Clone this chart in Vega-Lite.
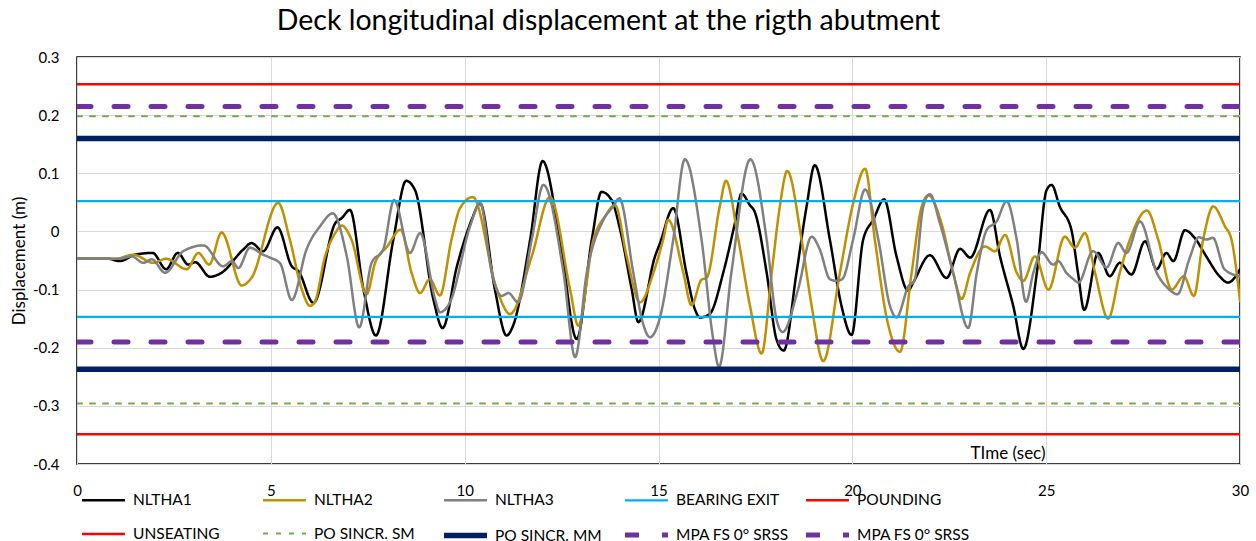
{
 "$schema": "https://vega.github.io/schema/vega-lite/v6.json",
 "width": 1163,
 "height": 407,
 "autosize": {"type": "none"},
 "padding": {"left": 77, "top": 57, "right": 16, "bottom": 77},
 "background": "white",
 "config": {"font": "Lato", "view": {"stroke": "black", "strokeWidth": 1.5}},
 "title": {"text": "Deck longitudinal displacement at the rigth abutment", "fontSize": 28.5, "fontWeight": "normal", "color": "black", "frame": "group", "anchor": "middle", "dx": -50, "offset": 15},
 "data": {"values": [
{"series":"NLTHA1","time":0,"disp":-0.047},{"series":"NLTHA1","time":0.8,"disp":-0.047},{"series":"NLTHA1","time":1.1,"disp":-0.051},{"series":"NLTHA1","time":1.5,"disp":-0.04},{"series":"NLTHA1","time":1.95,"disp":-0.037},{"series":"NLTHA1","time":2.3,"disp":-0.065},{"series":"NLTHA1","time":2.6,"disp":-0.037},{"series":"NLTHA1","time":2.87,"disp":-0.057},{"series":"NLTHA1","time":3.05,"disp":-0.053},{"series":"NLTHA1","time":3.43,"disp":-0.078},{"series":"NLTHA1","time":3.73,"disp":-0.071},{"series":"NLTHA1","time":4.29,"disp":-0.031},{"series":"NLTHA1","time":4.5,"disp":-0.02},{"series":"NLTHA1","time":4.8,"disp":-0.034},{"series":"NLTHA1","time":5.17,"disp":0.007},{"series":"NLTHA1","time":5.54,"disp":-0.06},{"series":"NLTHA1","time":5.71,"disp":-0.068},{"series":"NLTHA1","time":6.1,"disp":-0.123},{"series":"NLTHA1","time":6.66,"disp":0.014},{"series":"NLTHA1","time":6.83,"disp":0.023},{"series":"NLTHA1","time":7.04,"disp":0.037},{"series":"NLTHA1","time":7.39,"disp":-0.1},{"series":"NLTHA1","time":7.71,"disp":-0.179},{"series":"NLTHA1","time":8.16,"disp":-0.014},{"series":"NLTHA1","time":8.49,"disp":0.087},{"series":"NLTHA1","time":8.72,"disp":0.071},{"series":"NLTHA1","time":9.19,"disp":-0.116},{"series":"NLTHA1","time":9.43,"disp":-0.166},{"series":"NLTHA1","time":9.8,"disp":-0.06},{"series":"NLTHA1","time":10.0,"disp":-0.014},{"series":"NLTHA1","time":10.18,"disp":0.02},{"series":"NLTHA1","time":10.4,"disp":0.048},{"series":"NLTHA1","time":10.78,"disp":-0.1},{"series":"NLTHA1","time":11.08,"disp":-0.179},{"series":"NLTHA1","time":11.25,"disp":-0.162},{"series":"NLTHA1","time":11.69,"disp":-0.014},{"series":"NLTHA1","time":12.01,"disp":0.121},{"series":"NLTHA1","time":12.46,"disp":-0.014},{"series":"NLTHA1","time":12.89,"disp":-0.185},{"series":"NLTHA1","time":13.28,"disp":-0.014},{"series":"NLTHA1","time":13.53,"disp":0.068},{"series":"NLTHA1","time":13.79,"disp":0.054},{"series":"NLTHA1","time":14.01,"disp":0.003},{"series":"NLTHA1","time":14.31,"disp":-0.1},{"series":"NLTHA1","time":14.48,"disp":-0.156},{"series":"NLTHA1","time":14.91,"disp":-0.043},{"series":"NLTHA1","time":15.04,"disp":-0.02},{"series":"NLTHA1","time":15.38,"disp":0.04},{"series":"NLTHA1","time":15.72,"disp":-0.071},{"series":"NLTHA1","time":15.94,"disp":-0.134},{"series":"NLTHA1","time":16.07,"disp":-0.148},{"series":"NLTHA1","time":16.32,"disp":-0.142},{"series":"NLTHA1","time":16.67,"disp":-0.071},{"series":"NLTHA1","time":16.97,"disp":0.014},{"series":"NLTHA1","time":17.14,"disp":0.065},{"series":"NLTHA1","time":17.36,"disp":0.045},{"series":"NLTHA1","time":17.48,"disp":0.034},{"series":"NLTHA1","time":17.79,"disp":-0.071},{"series":"NLTHA1","time":18.04,"disp":-0.185},{"series":"NLTHA1","time":18.23,"disp":-0.205},{"series":"NLTHA1","time":18.56,"disp":-0.071},{"series":"NLTHA1","time":18.82,"disp":0.043},{"series":"NLTHA1","time":19.03,"disp":0.114},{"series":"NLTHA1","time":19.42,"disp":-0.014},{"series":"NLTHA1","time":19.72,"disp":-0.128},{"series":"NLTHA1","time":19.98,"disp":-0.178},{"series":"NLTHA1","time":20.28,"disp":-0.014},{"series":"NLTHA1","time":20.54,"disp":0.02},{"series":"NLTHA1","time":20.82,"disp":0.055},{"series":"NLTHA1","time":21.14,"disp":-0.043},{"series":"NLTHA1","time":21.44,"disp":-0.102},{"series":"NLTHA1","time":21.57,"disp":-0.088},{"series":"NLTHA1","time":22.0,"disp":-0.041},{"series":"NLTHA1","time":22.43,"disp":-0.08},{"series":"NLTHA1","time":22.78,"disp":-0.03},{"series":"NLTHA1","time":23.04,"disp":-0.045},{"series":"NLTHA1","time":23.55,"disp":0.037},{"series":"NLTHA1","time":23.81,"disp":-0.043},{"series":"NLTHA1","time":24.15,"disp":-0.128},{"series":"NLTHA1","time":24.41,"disp":-0.202},{"series":"NLTHA1","time":24.76,"disp":-0.071},{"series":"NLTHA1","time":25.01,"disp":0.071},{"series":"NLTHA1","time":25.14,"disp":0.08},{"series":"NLTHA1","time":25.35,"disp":0.043},{"series":"NLTHA1","time":25.65,"disp":0.003},{"series":"NLTHA1","time":25.82,"disp":-0.071},{"series":"NLTHA1","time":25.98,"disp":-0.135},{"series":"NLTHA1","time":26.34,"disp":-0.037},{"series":"NLTHA1","time":26.64,"disp":-0.077},{"series":"NLTHA1","time":26.9,"disp":-0.054},{"series":"NLTHA1","time":27.2,"disp":-0.074},{"series":"NLTHA1","time":27.55,"disp":-0.017},{"series":"NLTHA1","time":27.85,"disp":-0.065},{"series":"NLTHA1","time":28.1,"disp":-0.037},{"series":"NLTHA1","time":28.28,"disp":-0.051},{"series":"NLTHA1","time":28.58,"disp":0.002},{"series":"NLTHA1","time":28.83,"disp":-0.011},{"series":"NLTHA1","time":29.13,"disp":-0.043},{"series":"NLTHA1","time":29.47,"disp":-0.077},{"series":"NLTHA1","time":29.69,"disp":-0.088},{"series":"NLTHA1","time":30,"disp":-0.065},
{"series":"NLTHA2","time":0,"disp":-0.047},{"series":"NLTHA2","time":1.0,"disp":-0.047},{"series":"NLTHA2","time":1.45,"disp":-0.04},{"series":"NLTHA2","time":1.97,"disp":-0.054},{"series":"NLTHA2","time":2.3,"disp":-0.047},{"series":"NLTHA2","time":2.83,"disp":-0.065},{"series":"NLTHA2","time":3.13,"disp":-0.037},{"series":"NLTHA2","time":3.41,"disp":-0.057},{"series":"NLTHA2","time":3.73,"disp":-0.002},{"series":"NLTHA2","time":4.25,"disp":-0.093},{"series":"NLTHA2","time":4.5,"disp":-0.08},{"series":"NLTHA2","time":5.19,"disp":0.049},{"series":"NLTHA2","time":5.49,"disp":-0.014},{"series":"NLTHA2","time":5.8,"disp":-0.1},{"series":"NLTHA2","time":6.01,"disp":-0.128},{"series":"NLTHA2","time":6.13,"disp":-0.122},{"series":"NLTHA2","time":6.4,"disp":-0.043},{"series":"NLTHA2","time":6.66,"disp":-0.003},{"series":"NLTHA2","time":6.83,"disp":0.01},{"series":"NLTHA2","time":7.08,"disp":-0.014},{"series":"NLTHA2","time":7.47,"disp":-0.108},{"series":"NLTHA2","time":7.69,"disp":-0.054},{"series":"NLTHA2","time":8.0,"disp":-0.026},{"series":"NLTHA2","time":8.35,"disp":0.003},{"series":"NLTHA2","time":8.63,"disp":-0.071},{"series":"NLTHA2","time":8.85,"disp":-0.106},{"series":"NLTHA2","time":9.1,"disp":-0.082},{"series":"NLTHA2","time":9.36,"disp":-0.11},{"series":"NLTHA2","time":9.66,"disp":-0.014},{"series":"NLTHA2","time":9.88,"disp":0.04},{"series":"NLTHA2","time":10.21,"disp":0.059},{"series":"NLTHA2","time":10.83,"disp":-0.1},{"series":"NLTHA2","time":11.17,"disp":-0.142},{"series":"NLTHA2","time":11.73,"disp":-0.043},{"series":"NLTHA2","time":12.2,"disp":0.059},{"series":"NLTHA2","time":12.72,"disp":-0.1},{"series":"NLTHA2","time":12.93,"disp":-0.162},{"series":"NLTHA2","time":13.32,"disp":-0.014},{"series":"NLTHA2","time":13.62,"disp":0.026},{"series":"NLTHA2","time":13.88,"disp":0.045},{"series":"NLTHA2","time":14.18,"disp":-0.043},{"series":"NLTHA2","time":14.52,"disp":-0.122},{"series":"NLTHA2","time":14.87,"disp":-0.071},{"series":"NLTHA2","time":15.12,"disp":-0.014},{"series":"NLTHA2","time":15.25,"disp":0.02},{"series":"NLTHA2","time":15.64,"disp":-0.071},{"series":"NLTHA2","time":15.85,"disp":-0.127},{"series":"NLTHA2","time":16.11,"disp":-0.083},{"series":"NLTHA2","time":16.24,"disp":-0.08},{"series":"NLTHA2","time":16.58,"disp":0.043},{"series":"NLTHA2","time":16.74,"disp":0.087},{"series":"NLTHA2","time":17.06,"disp":-0.014},{"series":"NLTHA2","time":17.36,"disp":-0.128},{"series":"NLTHA2","time":17.66,"disp":-0.21},{"series":"NLTHA2","time":17.92,"disp":-0.071},{"series":"NLTHA2","time":18.13,"disp":0.043},{"series":"NLTHA2","time":18.32,"disp":0.104},{"series":"NLTHA2","time":18.69,"disp":-0.014},{"series":"NLTHA2","time":18.95,"disp":-0.128},{"series":"NLTHA2","time":19.25,"disp":-0.223},{"series":"NLTHA2","time":19.68,"disp":-0.071},{"series":"NLTHA2","time":20.02,"disp":0.048},{"series":"NLTHA2","time":20.33,"disp":0.108},{"series":"NLTHA2","time":20.58,"disp":-0.014},{"series":"NLTHA2","time":20.89,"disp":-0.15},{"series":"NLTHA2","time":21.23,"disp":-0.207},{"series":"NLTHA2","time":21.53,"disp":-0.071},{"series":"NLTHA2","time":21.79,"disp":0.043},{"series":"NLTHA2","time":21.96,"disp":0.062},{"series":"NLTHA2","time":22.3,"disp":0.014},{"series":"NLTHA2","time":22.6,"disp":-0.071},{"series":"NLTHA2","time":22.82,"disp":-0.116},{"series":"NLTHA2","time":23.04,"disp":-0.071},{"series":"NLTHA2","time":23.42,"disp":-0.026},{"series":"NLTHA2","time":23.68,"disp":-0.034},{"series":"NLTHA2","time":23.94,"disp":-0.006},{"series":"NLTHA2","time":24.24,"disp":-0.071},{"series":"NLTHA2","time":24.41,"disp":-0.085},{"series":"NLTHA2","time":24.71,"disp":-0.043},{"series":"NLTHA2","time":25.06,"disp":-0.1},{"series":"NLTHA2","time":25.48,"disp":-0.009},{"series":"NLTHA2","time":25.74,"disp":-0.028},{"series":"NLTHA2","time":26.0,"disp":-0.003},{"series":"NLTHA2","time":26.26,"disp":-0.071},{"series":"NLTHA2","time":26.6,"disp":-0.15},{"series":"NLTHA2","time":26.9,"disp":-0.071},{"series":"NLTHA2","time":27.16,"disp":-0.014},{"series":"NLTHA2","time":27.6,"disp":0.036},{"series":"NLTHA2","time":27.89,"disp":-0.014},{"series":"NLTHA2","time":28.24,"disp":-0.1},{"series":"NLTHA2","time":28.55,"disp":-0.077},{"series":"NLTHA2","time":28.81,"disp":-0.111},{"series":"NLTHA2","time":29.05,"disp":-0.014},{"series":"NLTHA2","time":29.31,"disp":0.043},{"series":"NLTHA2","time":29.61,"disp":0.009},{"series":"NLTHA2","time":29.78,"disp":-0.014},{"series":"NLTHA2","time":30,"disp":-0.12},
{"series":"NLTHA3","time":0,"disp":-0.047},{"series":"NLTHA3","time":1.1,"disp":-0.047},{"series":"NLTHA3","time":1.41,"disp":-0.043},{"series":"NLTHA3","time":1.71,"disp":-0.054},{"series":"NLTHA3","time":1.93,"disp":-0.048},{"series":"NLTHA3","time":2.27,"disp":-0.071},{"series":"NLTHA3","time":2.74,"disp":-0.034},{"series":"NLTHA3","time":3.26,"disp":-0.024},{"series":"NLTHA3","time":3.77,"disp":-0.06},{"series":"NLTHA3","time":4.0,"disp":-0.051},{"series":"NLTHA3","time":4.16,"disp":-0.063},{"series":"NLTHA3","time":4.46,"disp":-0.028},{"series":"NLTHA3","time":4.8,"disp":-0.04},{"series":"NLTHA3","time":4.98,"disp":-0.045},{"series":"NLTHA3","time":5.24,"disp":-0.055},{"series":"NLTHA3","time":5.54,"disp":-0.118},{"series":"NLTHA3","time":5.92,"disp":-0.031},{"series":"NLTHA3","time":6.27,"disp":0.009},{"series":"NLTHA3","time":6.6,"disp":0.031},{"series":"NLTHA3","time":6.96,"disp":-0.043},{"series":"NLTHA3","time":7.28,"disp":-0.165},{"series":"NLTHA3","time":7.6,"disp":-0.054},{"series":"NLTHA3","time":7.9,"disp":-0.031},{"series":"NLTHA3","time":8.18,"disp":0.054},{"series":"NLTHA3","time":8.59,"disp":-0.037},{"series":"NLTHA3","time":8.85,"disp":-0.003},{"series":"NLTHA3","time":9.24,"disp":-0.117},{"series":"NLTHA3","time":9.36,"disp":-0.139},{"series":"NLTHA3","time":9.62,"disp":-0.122},{"series":"NLTHA3","time":10.14,"disp":0.009},{"series":"NLTHA3","time":10.4,"disp":0.049},{"series":"NLTHA3","time":10.7,"disp":-0.071},{"series":"NLTHA3","time":10.95,"disp":-0.111},{"series":"NLTHA3","time":11.13,"disp":-0.106},{"series":"NLTHA3","time":11.38,"disp":-0.122},{"series":"NLTHA3","time":11.73,"disp":-0.014},{"series":"NLTHA3","time":12.03,"disp":0.08},{"series":"NLTHA3","time":12.55,"disp":-0.071},{"series":"NLTHA3","time":12.85,"disp":-0.216},{"series":"NLTHA3","time":13.15,"disp":-0.071},{"series":"NLTHA3","time":13.58,"disp":0.02},{"series":"NLTHA3","time":13.83,"disp":0.043},{"series":"NLTHA3","time":13.99,"disp":0.057},{"series":"NLTHA3","time":14.35,"disp":-0.071},{"series":"NLTHA3","time":14.59,"disp":-0.156},{"series":"NLTHA3","time":14.78,"disp":-0.182},{"series":"NLTHA3","time":15.03,"disp":-0.15},{"series":"NLTHA3","time":15.38,"disp":-0.014},{"series":"NLTHA3","time":15.68,"disp":0.124},{"series":"NLTHA3","time":16.11,"disp":-0.014},{"series":"NLTHA3","time":16.41,"disp":-0.185},{"series":"NLTHA3","time":16.56,"disp":-0.233},{"series":"NLTHA3","time":16.88,"disp":-0.071},{"series":"NLTHA3","time":17.37,"disp":0.124},{"series":"NLTHA3","time":17.79,"disp":-0.014},{"series":"NLTHA3","time":18.04,"disp":-0.15},{"series":"NLTHA3","time":18.2,"disp":-0.173},{"series":"NLTHA3","time":18.6,"disp":-0.1},{"series":"NLTHA3","time":18.95,"disp":-0.009},{"series":"NLTHA3","time":19.16,"disp":-0.031},{"series":"NLTHA3","time":19.42,"disp":-0.082},{"series":"NLTHA3","time":19.59,"disp":-0.085},{"series":"NLTHA3","time":19.74,"disp":-0.082},{"series":"NLTHA3","time":20.02,"disp":-0.014},{"series":"NLTHA3","time":20.33,"disp":0.072},{"series":"NLTHA3","time":20.67,"disp":-0.014},{"series":"NLTHA3","time":20.97,"disp":-0.128},{"series":"NLTHA3","time":21.14,"disp":-0.148},{"series":"NLTHA3","time":21.45,"disp":-0.094},{"series":"NLTHA3","time":21.6,"disp":-0.085},{"series":"NLTHA3","time":21.83,"disp":0.043},{"series":"NLTHA3","time":22.0,"disp":0.064},{"series":"NLTHA3","time":22.26,"disp":0.014},{"series":"NLTHA3","time":22.6,"disp":-0.071},{"series":"NLTHA3","time":22.99,"disp":-0.166},{"series":"NLTHA3","time":23.21,"disp":-0.071},{"series":"NLTHA3","time":23.47,"disp":0.003},{"series":"NLTHA3","time":23.72,"disp":0.017},{"series":"NLTHA3","time":23.98,"disp":0.052},{"series":"NLTHA3","time":24.24,"disp":-0.014},{"series":"NLTHA3","time":24.48,"disp":-0.121},{"series":"NLTHA3","time":24.67,"disp":-0.071},{"series":"NLTHA3","time":24.88,"disp":-0.036},{"series":"NLTHA3","time":25.18,"disp":-0.057},{"series":"NLTHA3","time":25.31,"disp":-0.051},{"series":"NLTHA3","time":25.52,"disp":-0.071},{"series":"NLTHA3","time":25.7,"disp":-0.082},{"series":"NLTHA3","time":25.83,"disp":-0.088},{"series":"NLTHA3","time":26.21,"disp":-0.034},{"series":"NLTHA3","time":26.56,"disp":-0.062},{"series":"NLTHA3","time":26.86,"disp":-0.02},{"series":"NLTHA3","time":27.07,"disp":-0.037},{"series":"NLTHA3","time":27.42,"disp":0.017},{"series":"NLTHA3","time":27.85,"disp":-0.071},{"series":"NLTHA3","time":28.13,"disp":-0.097},{"series":"NLTHA3","time":28.39,"disp":-0.108},{"series":"NLTHA3","time":28.69,"disp":-0.048},{"series":"NLTHA3","time":28.94,"disp":-0.01},{"series":"NLTHA3","time":29.13,"disp":-0.014},{"series":"NLTHA3","time":29.3,"disp":-0.011},{"series":"NLTHA3","time":29.6,"disp":-0.065},{"series":"NLTHA3","time":29.98,"disp":-0.077},
{"series":"BEARING EXIT","part":"top","time":0,"disp":0.052},{"series":"BEARING EXIT","part":"top","time":30,"disp":0.052},
{"series":"BEARING EXIT","part":"bottom","time":0,"disp":-0.147},{"series":"BEARING EXIT","part":"bottom","time":30,"disp":-0.147},
{"series":"POUNDING","part":"top","time":0,"disp":0.253},{"series":"POUNDING","part":"top","time":30,"disp":0.253},
{"series":"UNSEATING","part":"bottom","time":0,"disp":-0.349},{"series":"UNSEATING","part":"bottom","time":30,"disp":-0.349},
{"series":"PO SINCR. SM","part":"top","time":0,"disp":0.198},{"series":"PO SINCR. SM","part":"top","time":30,"disp":0.198},
{"series":"PO SINCR. SM","part":"bottom","time":0,"disp":-0.296},{"series":"PO SINCR. SM","part":"bottom","time":30,"disp":-0.296},
{"series":"PO SINCR. MM","part":"top","time":0,"disp":0.16},{"series":"PO SINCR. MM","part":"top","time":30,"disp":0.16},
{"series":"PO SINCR. MM","part":"bottom","time":0,"disp":-0.237},{"series":"PO SINCR. MM","part":"bottom","time":30,"disp":-0.237},
{"series":"MPA FS 0° SRSS","part":"top","time":0,"disp":0.215},{"series":"MPA FS 0° SRSS","part":"top","time":30,"disp":0.215},
{"series":"MPA FS 0° SRSS ","part":"bottom","time":0,"disp":-0.19},{"series":"MPA FS 0° SRSS ","part":"bottom","time":30,"disp":-0.19}
 ]},
 "mark": {"type": "line", "interpolate": "monotone", "strokeCap": "round", "clip": true},
 "encoding": {
  "x": {"field": "time", "type": "quantitative", "scale": {"domain": [0, 30], "nice": false},
   "axis": {"title": "TIme (sec)", "values": [0, 5, 10, 15, 20, 25, 30], "ticks": false, "domain": false, "grid": true, "gridColor": "#D9D9D9", "gridWidth": 1, "labelFontSize": 15, "labelColor": "black", "labelPadding": 19, "labelFlush": false, "titleFontSize": 17, "titleFontWeight": "normal", "titleColor": "black", "titleX": 968, "titleY": -6, "titleAlign": "right", "titleBaseline": "alphabetic"}},
  "y": {"field": "disp", "type": "quantitative", "scale": {"domain": [-0.4, 0.3], "nice": false},
   "axis": {"title": "Displacement (m)", "values": [-0.4, -0.3, -0.2, -0.1, 0, 0.1, 0.2, 0.3], "labelExpr": "toString(round(datum.value*10)/10)", "ticks": false, "domain": false, "grid": true, "gridColor": "#D9D9D9", "gridWidth": 1, "labelFontSize": 15, "labelColor": "black", "labelPadding": 18, "titleFontSize": 17, "titleFontWeight": "normal", "titleColor": "black", "titlePadding": 4}},
  "color": {"field": "series", "type": "nominal",
   "scale": {"domain": ["NLTHA1", "NLTHA2", "NLTHA3", "BEARING EXIT", "POUNDING", "UNSEATING", "PO SINCR. SM", "PO SINCR. MM", "MPA FS 0° SRSS", "MPA FS 0° SRSS "],
    "range": ["#000000", "#BF9000", "#808080", "#00B0F0", "#FF0000", "#FF0000", "#70AD47", "#002060", "#7030A0", "#7030A0"]},
   "legend": {"title": null, "orient": "none", "legendX": 2, "legendY": 418, "direction": "horizontal", "columns": 5, "gridAlign": "all", "symbolType": "stroke", "symbolSize": 1849, "labelFontSize": 15.5, "labelColor": "black", "labelOffset": 5, "columnPadding": 6, "rowPadding": -15}},
  "strokeDash": {"field": "series", "type": "nominal",
   "scale": {"domain": ["NLTHA1", "NLTHA2", "NLTHA3", "BEARING EXIT", "POUNDING", "UNSEATING", "PO SINCR. SM", "PO SINCR. MM", "MPA FS 0° SRSS", "MPA FS 0° SRSS "],
    "range": [[1, 0], [1, 0], [1, 0], [1, 0], [1, 0], [1, 0], [5, 8], [1, 0], [14, 23], [14, 23]]}},
  "strokeWidth": {"field": "series", "type": "nominal",
   "scale": {"type": "ordinal", "domain": ["NLTHA1", "NLTHA2", "NLTHA3", "BEARING EXIT", "POUNDING", "UNSEATING", "PO SINCR. SM", "PO SINCR. MM", "MPA FS 0° SRSS", "MPA FS 0° SRSS "],
    "range": [2.5, 2.5, 2.5, 2.25, 2.5, 2.5, 2, 5.5, 5, 5]}},
  "detail": {"field": "part"}
 }
}
